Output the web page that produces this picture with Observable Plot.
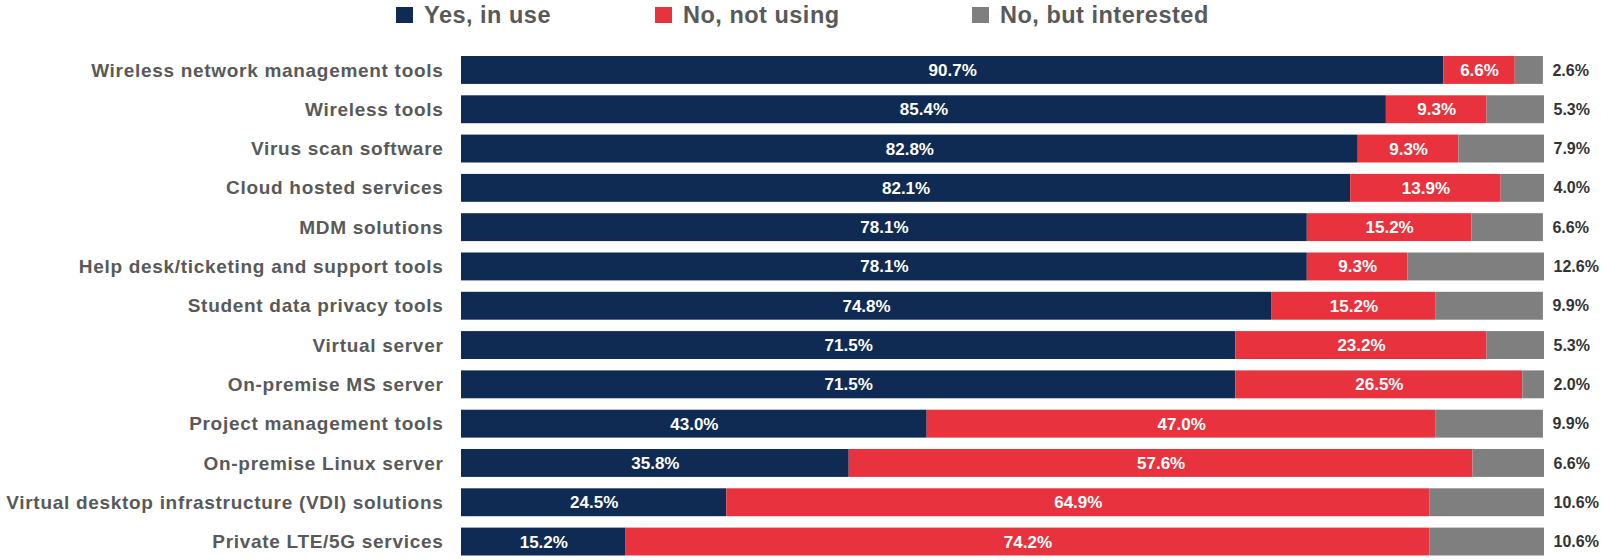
<!DOCTYPE html>
<html>
<head>
<meta charset="utf-8">
<script src="https://cdn.jsdelivr.net/npm/d3@7"></script>
<script src="https://cdn.jsdelivr.net/npm/@observablehq/plot@0.6"></script>
<style>
  html, body { margin: 0; padding: 0; background: #fff; }
  #legend { position: relative; width: 1601px; height: 36px; font-family: "Liberation Sans", Arial, sans-serif; }
  .item { position: absolute; top: 0; height: 30px; display: flex; align-items: center; font-size: 23.5px; font-weight: bold; color: #595959; letter-spacing: 0.5px; white-space: nowrap; }
  .sw { width: 17px; height: 16px; margin-right: 11px; }
  #chart svg g[aria-label="y-axis tick label"] text { letter-spacing: 0.7px; }
</style>
</head>
<body>
<div id="legend"></div>
<div id="chart"></div>
<script>
const categories = [
  "Wireless network management tools",
  "Wireless tools",
  "Virus scan software",
  "Cloud hosted services",
  "MDM solutions",
  "Help desk/ticketing and support tools",
  "Student data privacy tools",
  "Virtual server",
  "On-premise MS server",
  "Project management tools",
  "On-premise Linux server",
  "Virtual desktop infrastructure (VDI) solutions",
  "Private LTE/5G services"
];
const statuses = ["Yes, in use", "No, not using", "No, but interested"];
const colors = ["#102b53", "#e8333f", "#7f7f7f"];
const yesInUse = [90.7, 85.4, 82.8, 82.1, 78.1, 78.1, 74.8, 71.5, 71.5, 43.0, 35.8, 24.5, 15.2];
const noNotUsing = [6.6, 9.3, 9.3, 13.9, 15.2, 9.3, 15.2, 23.2, 26.5, 47.0, 57.6, 64.9, 74.2];
const noInterested = [2.6, 5.3, 7.9, 4.0, 6.6, 12.6, 9.9, 5.3, 2.0, 9.9, 6.6, 10.6, 10.6];

const series = [yesInUse, noNotUsing, noInterested];
const rows = categories.flatMap((c, i) =>
  statuses.map((s, k) => ({cat: c, status: s, v: series[k][i], total: yesInUse[i] + noNotUsing[i] + noInterested[i]}))
);

// legend
const legendLefts = [396, 655, 972];
const legend = document.getElementById("legend");
statuses.forEach((s, k) => {
  const it = document.createElement("div");
  it.className = "item";
  it.style.left = legendLefts[k] + "px";
  it.innerHTML = `<span class="sw" style="background:${colors[k]}"></span><span>${s}</span>`;
  legend.appendChild(it);
});

const fmt = d => d.v.toFixed(1) + "%";

const chart = Plot.plot({
  width: 1601,
  height: 524,
  marginLeft: 461,
  marginRight: 57,
  marginTop: 20,
  marginBottom: 4.5,
  style: {fontFamily: "'Liberation Sans', Arial, sans-serif", background: "#fff"},
  x: {domain: [0, 100], axis: null},
  y: {domain: categories, paddingInner: 0.29, paddingOuter: 0, round: false, label: null},
  color: {domain: statuses, range: colors},
  marks: [
    Plot.ruleX([0], {stroke: "#d9d9d9", y1: categories[0], y2: categories[categories.length - 1], insetTop: -20, insetBottom: -20}),
    Plot.barX(rows, Plot.stackX({x: "v", y: "cat", fill: "status", order: statuses})),
    Plot.text(rows, Plot.stackX({
      filter: d => d.status !== "No, but interested",
      x: "v", y: "cat", z: "status", order: statuses,
      text: fmt, fill: "white", fontWeight: "bold", fontSize: 17
    })),
    Plot.text(rows.filter(d => d.status === "No, but interested"), {
      x: "total", y: "cat", text: fmt, textAnchor: "start", dx: 9,
      fill: "#333333", fontWeight: "bold", fontSize: 16
    }),
    Plot.axisY({tickSize: 0, tickPadding: 18, fontSize: 19, fontWeight: "bold", fill: "#595959", label: null})
  ]
});
document.getElementById("chart").appendChild(chart);
</script>
</body>
</html>
